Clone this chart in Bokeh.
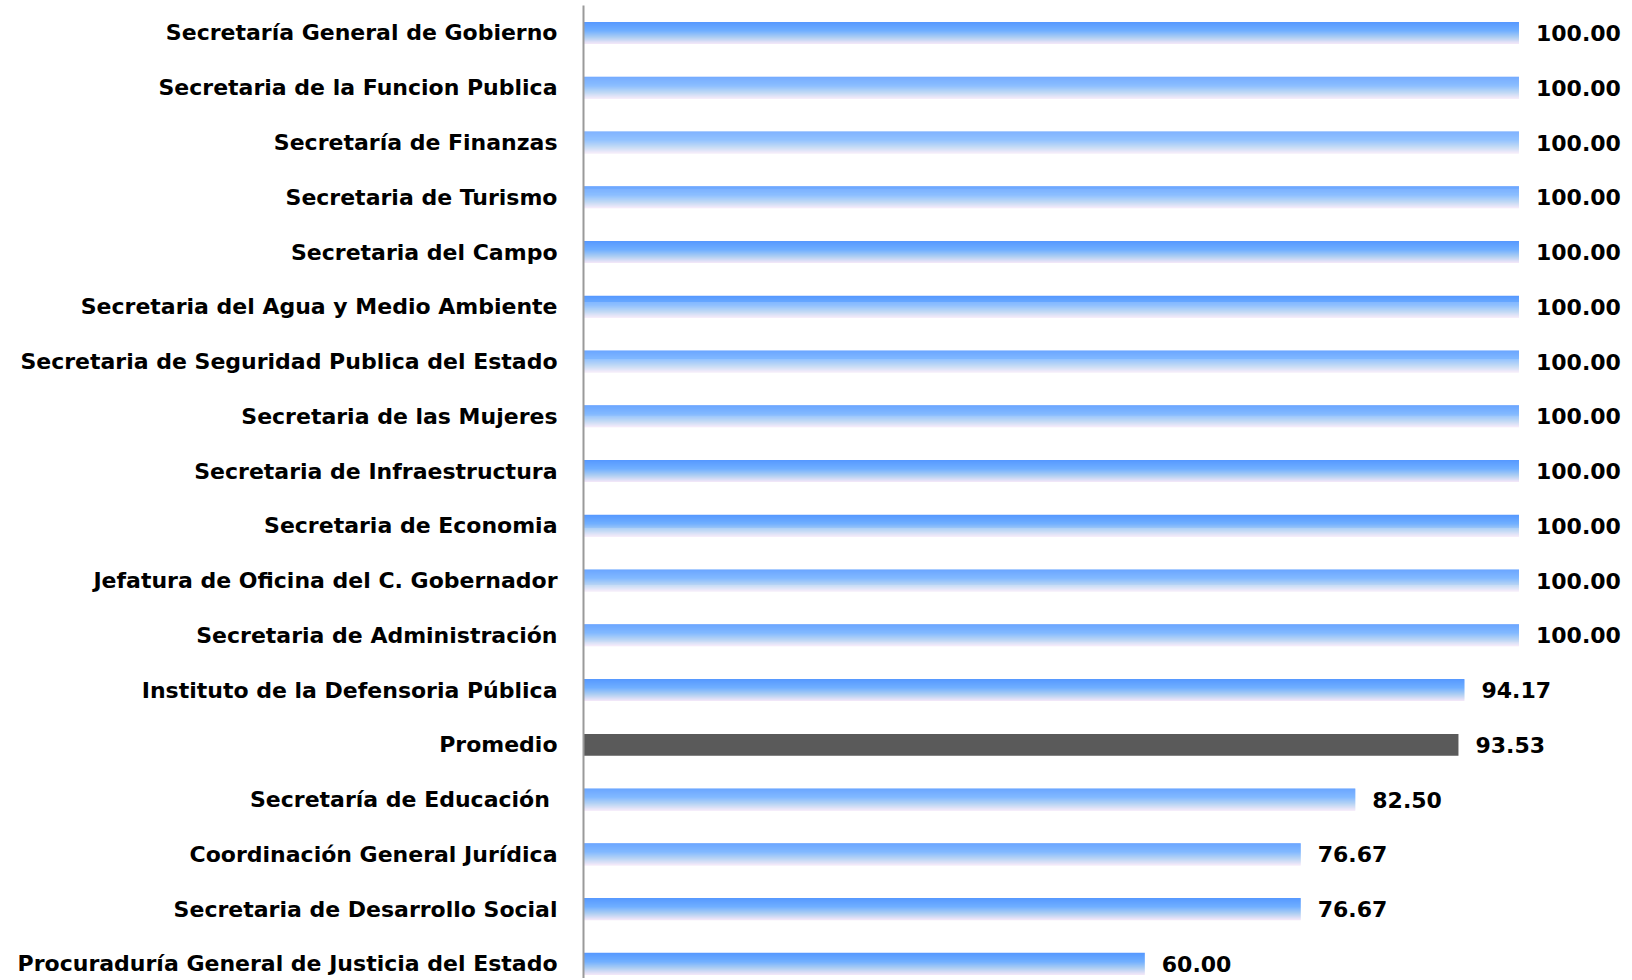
import numpy as np
from bokeh.plotting import figure
from bokeh.models import Range1d, FixedTicker, ColumnDataSource
from bokeh.core.properties import value
from bokeh.embed import file_html
from bokeh.resources import INLINE

# ---- data (top to bottom) ----
categories = [
    "Secretaría General de Gobierno",
    "Secretaria de la Funcion Publica",
    "Secretaría de Finanzas",
    "Secretaria de Turismo",
    "Secretaria del Campo",
    "Secretaria del Agua y Medio Ambiente",
    "Secretaria de Seguridad Publica del Estado",
    "Secretaria de las Mujeres",
    "Secretaria de Infraestructura",
    "Secretaria de Economia",
    "Jefatura de Oficina del C. Gobernador",
    "Secretaria de Administración",
    "Instituto de la Defensoria Pública",
    "Promedio",
    "Secretaría de Educación ",
    "Coordinación General Jurídica",
    "Secretaria de Desarrollo Social",
    "Procuraduría General de Justicia del Estado",
]
values = [100.00, 100.00, 100.00, 100.00, 100.00, 100.00, 100.00, 100.00,
          100.00, 100.00, 100.00, 100.00, 94.17, 93.53, 82.50, 76.67, 76.67, 60.00]
highlight = "Promedio"

n = len(categories)
ypos = [n - 1 - i for i in range(n)]

# ---- styling ----
FONT = "DejaVu Sans"
BAR_H = 0.40
N_STRIPS = 22
stops = [(0.0, (86, 152, 255)), (0.40, (112, 175, 255)),
         (0.72, (178, 208, 242)), (1.0, (246, 232, 248))]


def grad(t):
    for (t0, c0), (t1, c1) in zip(stops[:-1], stops[1:]):
        if t <= t1:
            f = (t - t0) / (t1 - t0) if t1 > t0 else 0
            c = [round(a + (b - a) * f) for a, b in zip(c0, c1)]
            return "#%02x%02x%02x" % tuple(c)
    return "#%02x%02x%02x" % stops[-1][1]


p = figure(width=1630, height=978, output_backend="svg", toolbar_location=None,
           x_range=Range1d(0, 111.92), y_range=Range1d(-0.267, 17.502),
           x_axis_location=None, min_border_left=583, min_border_right=0,
           min_border_top=5, min_border_bottom=0)
p.outline_line_color = None
p.xgrid.visible = False
p.ygrid.visible = False
p.background_fill_color = "white"
p.border_fill_color = "white"

# gradient bars drawn as thin strips
step = BAR_H / N_STRIPS
sy, sr, sc = [], [], []
hy, hr = [], []
for cat, v, y in zip(categories, values, ypos):
    if cat == highlight:
        hy.append(y)
        hr.append(v)
        continue
    for k in range(N_STRIPS):
        sy.append(y + BAR_H / 2 - (k + 0.5) * step)
        sr.append(v)
        sc.append(grad((k + 0.5) / N_STRIPS))

p.hbar(y=sy, left=0, right=sr, height=step * 1.15, fill_color=sc, line_color=None)
p.hbar(y=hy, left=0, right=hr, height=BAR_H, fill_color="#5a5a5a", line_color=None)

# value labels
src = ColumnDataSource(dict(x=values, y=ypos, t=["%.2f" % v for v in values]))
p.text(x="x", y="y", text="t", source=src, x_offset=17, y_offset=0,
       text_align="left", text_baseline="middle",
       text_font=value(FONT), text_font_style="bold", text_font_size="22px",
       text_color="#000000")

# category axis
ax = p.yaxis[0]
ax.ticker = FixedTicker(ticks=ypos)
ax.major_label_overrides = {y: c for y, c in zip(ypos, categories)}
ax.major_tick_out = 0
ax.major_tick_in = 0
ax.minor_tick_out = 0
ax.minor_tick_in = 0
ax.major_label_standoff = 26
ax.major_label_text_font = FONT
ax.major_label_text_font_style = "bold"
ax.major_label_text_font_size = "22px"
ax.major_label_text_color = "#000000"
ax.axis_line_color = "#9a9a9a"
ax.axis_line_width = 2

open("out.html", "w").write(file_html(p, INLINE))
